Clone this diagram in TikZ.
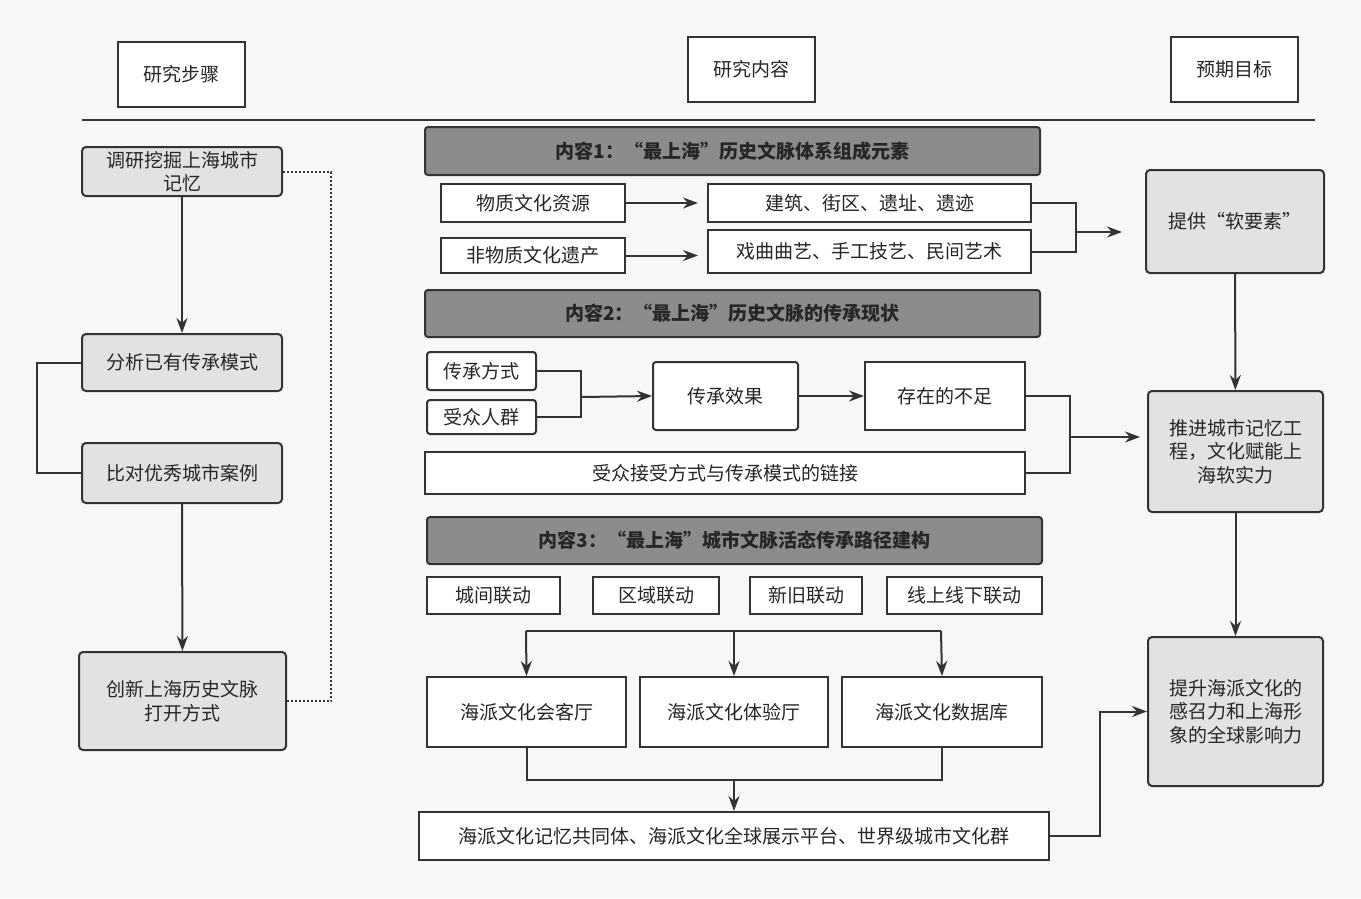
\documentclass[tikz,border=0pt]{standalone}
\usepackage{fontspec}
\setmainfont{Noto Sans CJK SC}
\usetikzlibrary{arrows.meta}
\definecolor{lg}{HTML}{E2E2E2}
\definecolor{dg}{HTML}{8C8C8C}
\definecolor{ln}{HTML}{333333}
\newcommand{\bx}[7]{\node[#6,minimum width={(#4-#2)*1pt},minimum height={(#5-#3)*1pt}] (#1) at ({(#2+#4)/2},{(#3+#5)/2}) {#7};}
\begin{document}
\begin{tikzpicture}[x=1pt,y=-1pt,
  base/.style={draw=ln,line width=2pt,inner sep=2pt,align=center,font=\fontsize{19}{23.5}\selectfont,text=black!85},
  w/.style={base,fill=white},
  wr/.style={base,fill=white,rounded corners=3pt},
  g/.style={base,fill=lg,rounded corners=4pt},
  h/.style={base,fill=dg,rounded corners=3pt,font=\fontsize{19}{23}\selectfont\bfseries},
  c/.style={draw=ln,line width=2pt},
  a/.style={c,-{Stealth[length=15pt,width=11pt]}}]
\path[fill=gray!6] (0,0) rectangle (1361,898);
\useasboundingbox (0,0) rectangle (1361,898);
\bx{s0}{118}{42}{245}{107}{w}{研究步骤}
\bx{c0}{688}{37}{815}{102}{w}{研究内容}
\bx{t0}{1171}{37}{1298}{102}{w}{预期目标}
\coordinate (hl) at (82,120); \coordinate (hr) at (1315,120);
\draw[c] (hl) -- (hr);
% left column
\bx{s1}{82}{147}{282}{196}{g}{调研挖掘上海城市\\记忆}
\bx{s2}{82}{334}{282}{391}{g}{分析已有传承模式}
\bx{s3}{82}{443}{282}{503}{g}{比对优秀城市案例}
\bx{s4}{79}{652}{286}{750}{g}{创新上海历史文脉\\打开方式}
\draw[a] (s1) -- (s2);
\draw[a] (s3) -- (s4);
\draw[c] (s2.west) -- ++(-44,0) |- (s3.west);
\draw[c,dotted,line width=2pt] (s1.east) -- ++(48,0) |- (s4.east);
% content 1
\bx{h1}{425}{127}{1040}{175}{h}{内容1：“最上海”历史文脉体系组成元素}
\bx{m1}{441}{184}{625}{222}{w}{物质文化资源}
\bx{m2}{441}{238}{625}{273}{w}{非物质文化遗产}
\bx{m3}{708}{184}{1031}{222}{w}{建筑、街区、遗址、遗迹}
\bx{m4}{708}{230}{1031}{273}{w}{戏曲曲艺、手工技艺、民间艺术}
\draw[a] (m1.east) -- ++(72,0);
\draw[a] (m2.east) -- ++(72,0);
\bx{t1}{1146}{170}{1324}{273}{g}{提供“软要素”}
\coordinate (b1) at (1076,232);
\draw[c] (m3.east) -| (b1) |- (m4.east);
\draw[a] (b1) -- (1122,232);
% content 2
\bx{h2}{425}{290}{1040}{337}{h}{内容2：“最上海”历史文脉的传承现状}
\bx{n1}{427}{352}{536}{390}{wr}{传承方式}
\bx{n2}{427}{400}{536}{434}{wr}{受众人群}
\bx{n3}{653}{362}{798}{430}{wr}{传承效果}
\bx{n4}{865}{362}{1025}{430}{w}{存在的不足}
\bx{n5}{425}{452}{1025}{494}{w}{受众接受方式与传承模式的链接}
\coordinate (b2) at (581,397);
\draw[c] (n1.east) -| (b2) |- (n2.east);
\draw[a] (b2) -- (n3.west);
\draw[a] (n3) -- (n4);
\coordinate (b3) at (1070,437);
\draw[c] (n4.east) -| (b3) |- (n5.east);
\bx{t2}{1148}{391}{1323}{512}{g}{推进城市记忆工\\程，文化赋能上\\海软实力}
\draw[a] (b3) -- (1140,437);
\draw[a] (t1) -- (t2);
% content 3
\bx{h3}{427}{517}{1042}{564}{h}{内容3：“最上海”城市文脉活态传承路径建构}
\bx{k1}{427}{577}{560}{614}{w}{城间联动}
\bx{k2}{593}{577}{719}{614}{w}{区域联动}
\bx{k3}{750}{577}{862}{614}{w}{新旧联动}
\bx{k4}{887}{577}{1042}{614}{w}{线上线下联动}
\bx{p1}{427}{677}{626}{747}{w}{海派文化会客厅}
\bx{p2}{640}{677}{828}{747}{w}{海派文化体验厅}
\bx{p3}{842}{677}{1042}{747}{w}{海派文化数据库}
\coordinate (r1) at (526,631); \coordinate (r2) at (734,631); \coordinate (r3) at (941,631);
\draw[c] (r1) -- (r3);
\draw[a] (r1) -- (p1.north);
\draw[a] (r2) -- (p2.north);
\draw[a] (r3) -- (p3.north);
\bx{q}{419}{812}{1049}{860}{w}{海派文化记忆共同体、海派文化全球展示平台、世界级城市文化群}
\coordinate (u2) at (734,780);
\draw[c] (p1.south) |- (u2) -| (p3.south);
\draw[a] (u2) -- (q.north);
\bx{t3}{1148}{637}{1323}{786}{g}{提升海派文化的\\感召力和上海形\\象的全球影响力}
\draw[a] (t2) -- (t3);
\draw[a] (q.east) -- ++(50,0) |- (t3.west);
\end{tikzpicture}
\end{document}
